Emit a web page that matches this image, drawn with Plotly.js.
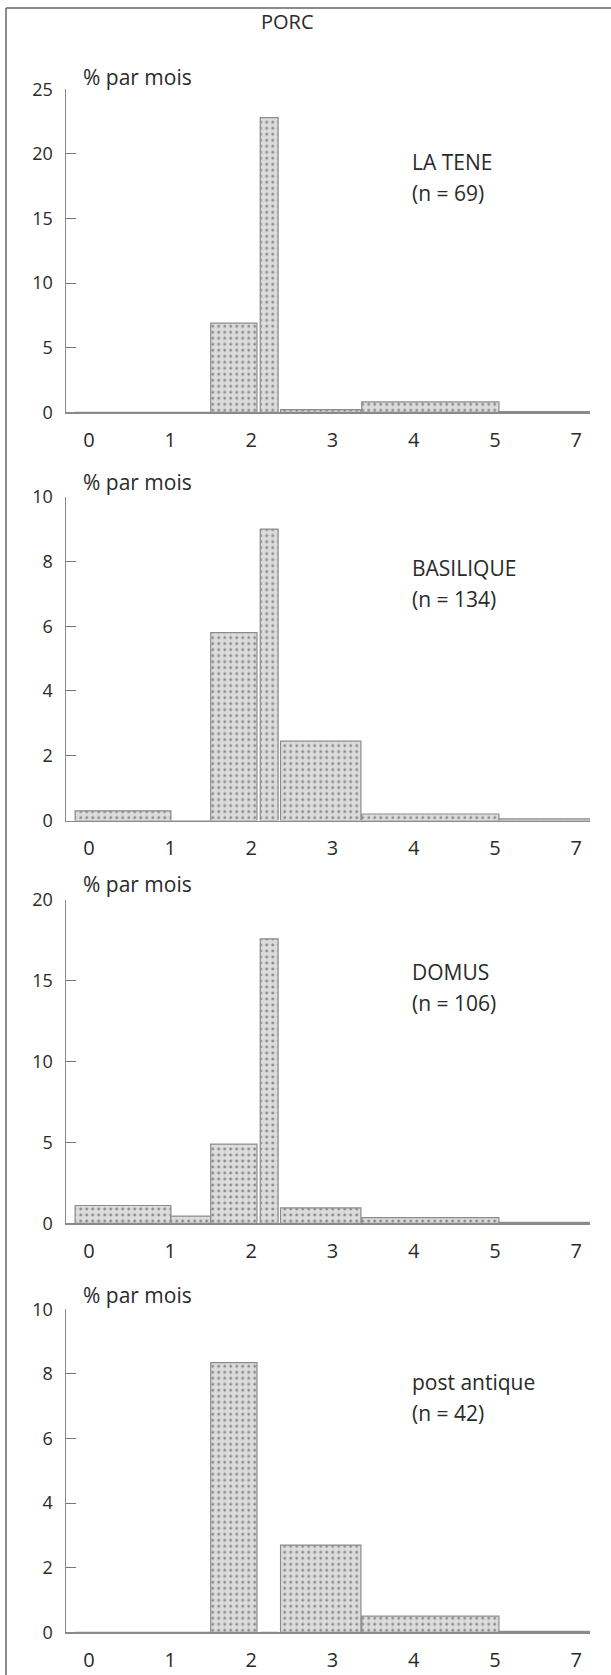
<!DOCTYPE html>
<html>
<head>
<meta charset="utf-8">
<script src="https://cdn.plot.ly/plotly-3.0.1.min.js"></script>
<style>
  html, body { margin: 0; padding: 0; background: #fff; }
  #chart { width: 611px; height: 1675px; }
</style>
</head>
<body>
<div id="chart"></div>
<script>
// ---- data ----
const chartTitle = 'PORC';
const yLabel = '% par mois';
const ageTickLabels = ['0', '1', '2', '3', '4', '5', '7'];
const ageTickPos = [0, 1, 2, 3, 4, 5, 6];
// age class boundaries, in axis units
const binLeft  = [-0.17, 1.01, 1.50, 2.11, 2.36, 3.36, 5.05];
const binRight = [ 1.01, 1.50, 2.07, 2.33, 3.35, 5.05, 6.17];
const siteNames = ['LA TENE', 'BASILIQUE', 'DOMUS', 'post antique'];
const siteCounts = [69, 134, 106, 42];
const laTene     = [0,   0,    6.9,  22.8, 0.2,  0.8,  0.05];
const basilique  = [0.3, 0,    5.8,  9.0,  2.45, 0.2,  0.05];
const domus      = [1.1, 0.45, 4.9,  17.6, 0.95, 0.35, 0.06];
const postAntique= [0,   0,    8.35, 0,    2.7,  0.5,  0.03];
const yMax  = [25, 10, 20, 10];
const yStep = [5, 2, 5, 2];
const siteValues = [laTene, basilique, domus, postAntique];

// ---- layout helpers (pixels) ----
const W = 611, H = 1675;
const px = x => x / W;
const py = y => 1 - y / H;
const panelTop    = [89.3, 496.7, 900.0, 1309.3];
const panelBottom = [412.3, 820.5, 1223.3, 1632.3];
const plotLeft = 65.7, plotRight = 590;
const unitPx = 81.2, zeroPx = 88.9;
const xRange = [(plotLeft - zeroPx) / unitPx, (plotRight - zeroPx) / unitPx];
const labelY = [77, 482, 884, 1295];
const siteLabelY = [162, 568, 972, 1382];

const centers = binLeft.map((l, i) => (l + binRight[i]) / 2);
const widths = binLeft.map((l, i) => binRight[i] - l);

const font = 'Open Sans, Liberation Sans, sans-serif';
const textColor = '#2a2a2a';

const traces = [];
const layout = {
  width: W, height: H,
  margin: {l: 0, r: 0, t: 0, b: 0},
  paper_bgcolor: '#fff', plot_bgcolor: '#fff',
  showlegend: false,
  font: {family: font, color: textColor},
  annotations: [],
  shapes: [
    {type: 'line', xref: 'paper', yref: 'paper', x0: px(6), x1: px(6), y0: py(8), y1: 0,
     line: {color: '#666', width: 1.5}},
    {type: 'line', xref: 'paper', yref: 'paper', x0: px(6), x1: 1, y0: py(8), y1: py(8),
     line: {color: '#666', width: 1.5}}
  ]
};

layout.annotations.push({
  text: chartTitle, xref: 'paper', yref: 'paper', x: px(287), y: py(22),
  xanchor: 'center', yanchor: 'middle', showarrow: false,
  font: {size: 20, family: font, color: textColor}
});

siteValues.forEach((vals, i) => {
  const n = i + 1;
  const xa = n === 1 ? 'x' : 'x' + n;
  const ya = n === 1 ? 'y' : 'y' + n;
  traces.push({
    type: 'bar', x: centers, y: vals, width: widths,
    xaxis: xa, yaxis: ya,
    marker: {
      color: '#dcdcdc',
      line: {color: '#8c8c8c', width: 1.2},
      pattern: {shape: '.', bgcolor: '#dcdcdc', fgcolor: '#8a8a8a', size: 6, solidity: 0.18}
    },
    hoverinfo: 'skip'
  });
  const xk = n === 1 ? 'xaxis' : 'xaxis' + n;
  const yk = n === 1 ? 'yaxis' : 'yaxis' + n;
  layout[xk] = {
    domain: [px(plotLeft), px(plotRight)],
    anchor: ya,
    range: xRange,
    tickmode: 'array', tickvals: ageTickPos, ticktext: ageTickLabels,
    ticks: 'outside', ticklen: 9, tickcolor: 'rgba(0,0,0,0)',
    tickfont: {size: 20, family: font, color: textColor},
    showgrid: false, zeroline: false,
    showline: true, linecolor: '#8a8a8a', linewidth: 1.2,
    fixedrange: true
  };
  layout[yk] = {
    domain: [py(panelBottom[i]), py(panelTop[i])],
    anchor: xa,
    range: [0, yMax[i]],
    dtick: yStep[i], tick0: 0,
    ticks: 'inside', ticklen: 10, tickcolor: '#777', tickwidth: 1,
    ticklabelstandoff: 8,
    tickfont: {size: 18, family: font, color: textColor},
    showgrid: false, zeroline: false,
    showline: true, linecolor: '#8a8a8a', linewidth: 1.2,
    fixedrange: true
  };
  layout.annotations.push({
    text: yLabel, xref: 'paper', yref: 'paper', x: px(81), y: py(labelY[i]),
    xanchor: 'left', yanchor: 'middle', showarrow: false,
    font: {size: 21, family: font, color: textColor}
  });
  layout.annotations.push({
    text: siteNames[i], xref: 'paper', yref: 'paper', x: px(410), y: py(siteLabelY[i]),
    xanchor: 'left', yanchor: 'middle', showarrow: false,
    font: {size: 21, family: font, color: textColor}
  });
  layout.annotations.push({
    text: '(n = ' + siteCounts[i] + ')', xref: 'paper', yref: 'paper', x: px(410), y: py(siteLabelY[i] + 31),
    xanchor: 'left', yanchor: 'middle', showarrow: false,
    font: {size: 21, family: font, color: textColor}
  });
});

Plotly.newPlot('chart', traces, layout, {displayModeBar: false, staticPlot: true});
</script>
</body>
</html>
